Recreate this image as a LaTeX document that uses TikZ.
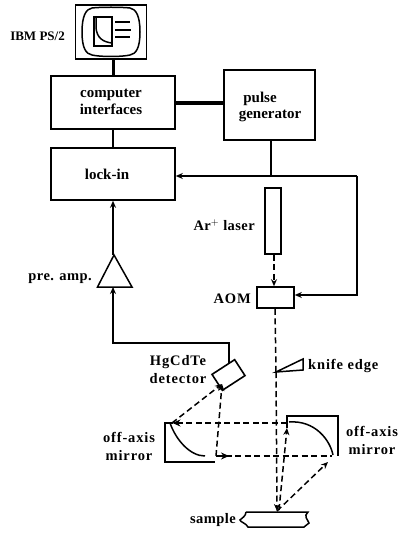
\documentclass[tikz,border=0pt]{standalone}
\usepackage{fontspec}
\setmainfont{Liberation Serif}
\usetikzlibrary{arrows.meta,shapes.geometric,calc}
\newfontfamily\wide[LetterSpace=6]{Liberation Serif}
\newfontfamily\semi[LetterSpace=3]{Liberation Serif}
\newcommand{\lab}{\fontsize{15}{17}\selectfont\bfseries}
\newcommand{\labw}{\fontsize{14.5}{18}\selectfont\bfseries\wide}
\newcommand{\labs}{\fontsize{14.5}{18}\selectfont\bfseries\semi}
\tikzset{
  box/.style={draw,line width=1.6pt,inner sep=0pt,align=center,font=\lab,rectangle},
  lab/.style={inner sep=0pt,align=center,font=\lab},
  labw/.style={inner sep=0pt,align=center,font=\labw},
  labs/.style={inner sep=0pt,align=center,font=\labs},
  wire/.style={line width=1.5pt},
  awire/.style={wire,-{Stealth[length=7pt,width=6pt]}},
  beam/.style={line width=1.5pt,dash pattern=on 6pt off 3.5pt},
  abeam/.style={beam,-{Stealth[length=7pt,width=6pt]}},
  shape line/.style={line width=1.5pt}
}
\begin{document}
\begin{tikzpicture}[x=1pt,y=-1pt]
\useasboundingbox (0,0) rectangle (401,534);
% boxes
\node[box,minimum width=71pt,minimum height=54pt] (monitor) at (111,32) {};
\draw[shape line] (92,8) .. controls (100,7) and (122,7) .. (130,8) .. controls (136,9) and (140,16) .. (140,32) .. controls (140,48) and (136,54) .. (130,55) .. controls (122,57) and (100,57) .. (92,55) .. controls (86,54) and (82,48) .. (82,32) .. controls (82,16) and (86,9) .. (92,8) -- cycle;
\node[draw,line width=1.1pt,minimum width=18pt,minimum height=29pt,inner sep=0pt] (plot) at (103,31.5) {};
\draw[shape line] (96,17) -- (96,28) .. controls (97,38) and (103,42) .. (112,43);
\draw[line width=1.6pt] (115,22) -- (130,22) (115,30) -- (131,30) (115,37) -- (130,37);
\node[lab,anchor=east,font=\fontsize{13}{15}\selectfont\bfseries] (ibm) at (65,36) {IBM PS/2};
\node[box,minimum width=124pt,minimum height=53pt] (comp) at (113,102.5) {};
\node[lab] (comptxt) at (111,102) {computer\\interfaces};
\node[box,minimum width=91pt,minimum height=70pt] (pulse) at (269.5,105) {};
\node[lab] (pulsetxt) at (260,99) {pulse};
\node[lab] (gentxt) at (270,116) {generator};
\node[box,minimum width=124pt,minimum height=52pt] (lock) at (113,174) {};
\node[lab] (locktxt) at (107,174) {lock-in};
\node[box,minimum width=16pt,minimum height=66pt] (laser) at (273,221) {};
\node[labs,anchor=east] (artxt) at (255,225) {Ar$^{+}$ laser};
\node[box,minimum width=37pt,minimum height=21pt] (aom) at (275.5,297.5) {};
\node[labw,anchor=east] (aomtxt) at (251,299) {AOM};
\coordinate (amptip) at (114,255);
\coordinate (ampbase) at (113,287);
\draw[shape line,line join=miter] (amptip) -- (97.5,287) -- (132,287) -- cycle;
\node[labs,anchor=east] (amptxt) at (92,279) {pre. amp.};
\node[box,rotate=33,minimum width=27pt,minimum height=19pt] (det) at (228.5,375) {};
\node[labw] (dettxt) at (178,370) {HgCdTe\\detector};
\coordinate (knifeT) at (276,372);
\draw[shape line] (knifeT) -- (303,359) -- (303,370) -- cycle;
\node[labw,anchor=west] (kniftxt) at (308,366) {knife edge};
% left mirror
\draw[shape line] (172,423) -- (165,423) -- (165,462) -- (215,462);
\draw[shape line] (170,423) .. controls (176,440) and (190,456) .. (205,456);
\node[labw] (lmtxt) at (129,446) {off-axis\\mirror};
% right mirror
\draw[shape line] (287,428) -- (287,416) -- (338,416) -- (338,456);
\draw[shape line] (289,422) .. controls (315,420) and (330,440) .. (333,455);
\node[labw] (rmtxt) at (372,440) {off-axis\\mirror};
% sample
\node[labs,anchor=east] (samtxt) at (236,520) {sample};
\draw[shape line] (246,512) -- (308,512) .. controls (303,516) and (308,520) .. (309,523) .. controls (306,525) .. (304,527) -- (248,527) .. controls (246,523) and (240,522) .. (240,520) .. controls (242,518) and (246,516) .. (246,512);
\coordinate (samp) at (277,511);
% wires
\draw[line width=3pt] (113,59) -- (113,76);
\draw[line width=4.5pt] (comp.east |- 0,103) -- (pulse.west |- 0,103);
\draw[line width=2.5pt] (comp.south) -- (lock.north);
\coordinate (tee) at (271,176);
\coordinate (corner) at (357,176);
\draw[wire] (pulse.south -| tee) -- (tee);
\draw[awire] (corner) -- (lock.east |- corner);
\draw[awire] (corner) -- (357,295) -- (aom.east |- 0,295);
\draw[awire] (amptip -| lock.south) -- (lock.south);
\coordinate (detc) at (229,343);
\draw[awire] (229,364) -- (detc) -- (113,343) -- (ampbase);
% beams
\draw[abeam] (laser.south -| 274,0) -- (aom.north -| 274,0);
\draw[beam] (aom.south -| 275,0) -- (276,372);
\draw[abeam] (276,372) -- (samp);
\coordinate (lmt) at (172,423);
\coordinate (lmb) at (216,456);
\coordinate (rmt) at (287,423);
\coordinate (rmb) at (332,456);
\coordinate (rmb2) at (328,462);
\coordinate (detin) at (222,384);
\draw[beam] (rmt) -- (lmt);
\draw[-{Stealth[length=8pt,width=7pt]},line width=1.5pt] (182,423) -- (172.5,423);
\draw[beam] (lmb) -- (rmb);
\draw[-{Stealth[length=8pt,width=7pt]},line width=1.5pt] (216,456) -- (229,456);
\draw[abeam] (lmt) -- (detin);
\draw[abeam] (lmb) -- (detin);
\draw[abeam] (samp) -- (rmb2);
\draw[abeam] (279,510) -- (287,428);
\end{tikzpicture}
\end{document}
